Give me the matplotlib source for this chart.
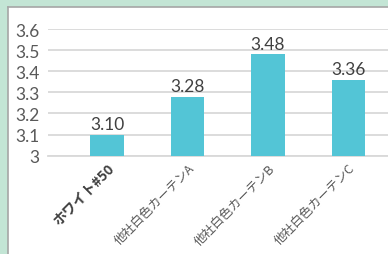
import matplotlib
matplotlib.use("Agg")
import matplotlib.pyplot as plt
from matplotlib.patches import Rectangle

plt.rcParams['font.family'] = ['Lato', 'Noto Sans CJK JP', 'DejaVu Sans']

# データ
categories = ["ホワイト#50", "他社白色カーテンA", "他社白色カーテンB", "他社白色カーテンC"]
values = [3.10, 3.28, 3.48, 3.36]
yticks = [3.0, 3.1, 3.2, 3.3, 3.4, 3.5, 3.6]
ytick_labels = ["3", "3.1", "3.2", "3.3", "3.4", "3.5", "3.6"]

bar_color = "#53C5D6"
grid_color = "#D9D9D9"
text_color = "#595959"

fig = plt.figure(figsize=(3.88, 2.55), dpi=100)
fig.patch.set_facecolor("white")

# 左と上の緑の帯
fig.patches.append(Rectangle((0, 0), 7.5 / 388, 1, transform=fig.transFigure,
                             facecolor="#C3E5D5", edgecolor="none"))
fig.patches.append(Rectangle((0, 1 - 7.5 / 255), 1, 7.5 / 255, transform=fig.transFigure,
                             facecolor="#C3E5D5", edgecolor="none"))
fig.lines.append(plt.Line2D([8 / 388, 8 / 388], [0, 1 - 8 / 255], transform=fig.transFigure,
                            color="#A6A6A6", linewidth=1.2))
fig.lines.append(plt.Line2D([8 / 388, 1], [1 - 8 / 255, 1 - 8 / 255], transform=fig.transFigure,
                            color="#A6A6A6", linewidth=1.2))

ax = fig.add_axes([48 / 388, 1 - 156.7 / 255, 340 / 388, (156.7 - 30) / 255])
x = range(len(categories))
bars = ax.bar(x, values, width=0.42, color=bar_color, zorder=3)

ax.set_ylim(3.0, 3.6)
ax.set_xlim(-0.733, 3.49)
ax.set_yticks(yticks)
ax.set_yticklabels(ytick_labels, fontsize=12.5, color=text_color)
ax.yaxis.grid(True, color=grid_color, linewidth=1.3, zorder=0)
ax.set_axisbelow(True)
ax.tick_params(axis="both", length=0)
ax.tick_params(axis="y", pad=6)

for side in ["top", "right", "left"]:
    ax.spines[side].set_visible(False)
ax.spines["bottom"].set_color(grid_color)
ax.spines["bottom"].set_linewidth(1.3)

ax.set_xticks(list(x))
ax.set_xticklabels(categories, rotation=45, ha="right", va="top", rotation_mode="anchor",
                   color=text_color, fontsize=9, family=["Noto Sans CJK JP", "DejaVu Sans"])
lbls = ax.get_xticklabels()
lbls[0].set_fontweight("bold")
lbls[0].set_fontsize(10)
lbls[0].set_color("#404040")
ax.tick_params(axis="x", pad=4)

ax.bar_label(bars, labels=[f"{v:.2f}" for v in values], padding=2, fontsize=12.5, color="#404040")

fig.savefig("out.png", dpi=100)
